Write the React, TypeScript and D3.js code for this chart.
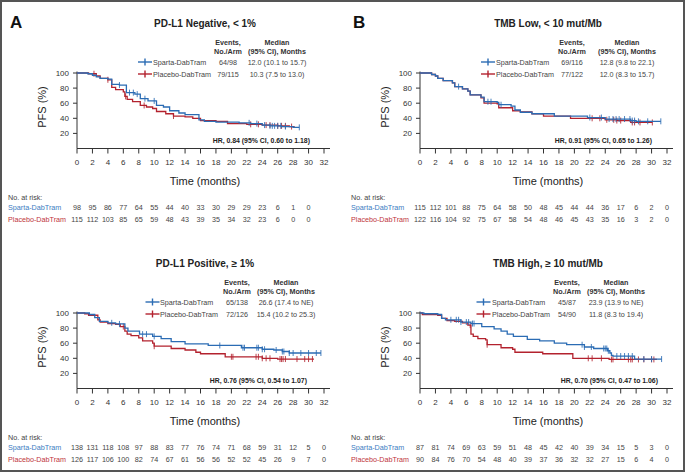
import React from 'react';
import * as d3 from 'd3';

// ---- data ----
const xTicks = [0, 2, 4, 6, 8, 10, 12, 14, 16, 18, 20, 22, 24, 26, 28, 30, 32];
const yTicks = [20, 40, 60, 80, 100];
const armNames = ['Sparta-DabTram', 'Placebo-DabTram'];

// PD-L1 negative
const negSpartaSteps = [[0, 100], [1.4, 99], [2.0, 97], [2.5, 95], [3.0, 93], [4.0, 92], [4.5, 85], [5.5, 84], [6.4, 74], [7.5, 72], [8.2, 66], [9.2, 63], [10.3, 57], [11.2, 55], [12.0, 50], [13.2, 47], [14.0, 45], [15.8, 38], [16.5, 36], [18.0, 35], [21.0, 34], [22.5, 33], [24.0, 31], [25.0, 30], [26.5, 29], [28.0, 28]];
const negSpartaEnd = 28.8;
const negSpartaCensor = [5.5, 6.8, 7.3, 7.8, 8.8, 10.0, 22.3, 23.3, 24.3, 25.0, 25.3, 25.6, 26.0, 26.4, 27.0, 28.8];
const negPlaceboSteps = [[0, 100], [1.5, 99], [2.5, 96], [3.0, 93], [4.0, 91], [4.5, 81], [5.0, 78], [6.0, 75], [6.2, 69], [6.5, 65], [7.2, 62], [8.2, 57], [9.0, 55], [9.8, 53], [10.3, 49], [11.5, 46], [12.5, 43], [14.0, 42], [15.0, 40], [16.0, 37], [18.0, 36], [19.5, 33], [22.0, 32], [24.0, 31], [26.0, 30], [27.5, 29]];
const negPlaceboEnd = 28.2;
const negPlaceboCensor = [2.2, 4.0, 6.3, 8.7, 12.5, 22.5, 23.5, 24.5, 25.0, 26.0, 26.5, 27.0, 27.8];
const negRiskSparta = [98, 95, 86, 77, 64, 55, 44, 40, 33, 30, 29, 29, 23, 6, 1, 0];
const negRiskPlacebo = [115, 112, 103, 85, 65, 59, 48, 43, 39, 35, 34, 32, 23, 6, 0, 0];

// PD-L1 positive
const posSpartaSteps = [[0, 100], [1.6, 98], [2.3, 94], [2.9, 89], [4.0, 87], [5.0, 85.5], [6.2, 80], [6.6, 76], [8.1, 72], [9.8, 69], [10.9, 66], [12.2, 62], [14.0, 59], [17.0, 57], [21.3, 54], [24.0, 52], [25.5, 51], [26.6, 49], [27.5, 47]];
const posSpartaEnd = 31.6;
const posSpartaCensor = [4.5, 5.5, 8.5, 9.0, 10.0, 18.5, 21.5, 21.7, 23.3, 23.5, 24.0, 24.3, 25.8, 26.6, 26.8, 27.5, 28.0, 29.0, 30.0, 31.0, 31.6];
const posPlaceboSteps = [[0, 100], [1.0, 99], [1.5, 97], [2.7, 91], [3.0, 88], [4.0, 86], [5.0, 85], [5.6, 82], [6.2, 76], [6.5, 72], [7.0, 70], [8.0, 67], [8.5, 63], [9.8, 60], [10.0, 56], [12.2, 53], [14.0, 51], [15.4, 48], [16.0, 46], [19.2, 42], [24.0, 40], [26.0, 39]];
const posPlaceboEnd = 30.7;
const posPlaceboCensor = [6.0, 10.0, 20.0, 20.2, 23.2, 23.5, 24.0, 24.5, 25.0, 26.3, 26.5, 26.7, 27.0, 28.5, 29.5, 30.0, 30.5];
const posRiskSparta = [138, 131, 118, 108, 97, 88, 83, 77, 76, 74, 71, 68, 59, 31, 12, 5, 0];
const posRiskPlacebo = [126, 117, 106, 100, 82, 74, 67, 61, 56, 56, 52, 52, 45, 26, 9, 7, 0];

// TMB low
const lowSpartaSteps = [[0, 100], [1.5, 98], [2.0, 96], [2.3, 93], [3.0, 90], [4.2, 87], [4.5, 82], [5.5, 79], [6.2, 76], [6.5, 71], [7.9, 68], [8.3, 62], [10.0, 61], [10.2, 58], [11.8, 56], [12.3, 51], [13.0, 48], [14.5, 46], [17.4, 43], [21.7, 41], [24.0, 39], [27.3, 37], [28.0, 36]];
const lowSpartaEnd = 31.2;
const lowSpartaCensor = [5.0, 8.8, 9.2, 10.5, 22.0, 23.5, 24.5, 25.0, 25.4, 25.8, 26.5, 27.2, 27.5, 27.8, 28.3, 29.5, 31.2];
const lowPlaceboSteps = [[0, 100], [1.5, 98], [2.0, 96], [2.3, 93], [3.0, 90], [4.2, 87], [4.5, 82], [5.5, 79], [6.2, 76], [6.5, 71], [7.9, 67], [8.3, 60], [10.0, 59], [10.2, 54], [12.0, 50], [13.0, 48.5], [14.5, 46], [16.0, 43], [19.5, 40], [24.0, 38], [25.5, 37], [27.3, 34.5]];
const lowPlaceboEnd = 30.1;
const lowPlaceboCensor = [22.3, 23.3, 24.2, 25.1, 25.5, 26.0, 27.5, 27.8, 28.5, 30.1];
const lowRiskSparta = [115, 112, 101, 88, 75, 64, 58, 50, 48, 45, 44, 44, 36, 17, 6, 2, 0];
const lowRiskPlacebo = [122, 116, 104, 92, 75, 67, 58, 54, 48, 46, 45, 43, 35, 16, 3, 2, 0];

// TMB high
const highSpartaSteps = [[0, 100], [0.5, 99], [2.3, 98], [2.8, 93], [3.3, 91], [5.3, 88], [6.6, 86], [8.0, 82], [9.6, 79], [10.5, 76], [11.3, 72], [12.1, 69], [13.9, 65], [15.5, 63], [17.4, 60], [19.0, 58], [21.3, 55], [22.5, 53], [24.3, 50], [24.6, 47], [24.8, 44], [25.0, 43], [27.8, 39]];
const highSpartaEnd = 31.3;
const highSpartaCensor = [4.0, 4.7, 5.0, 5.3, 6.0, 6.3, 6.8, 7.0, 21.0, 21.3, 22.2, 23.8, 24.0, 24.2, 24.4, 25.5, 26.0, 26.5, 27.0, 27.5, 29.0, 30.0, 31.3];
const highPlaceboSteps = [[0, 100], [0.3, 98], [2.3, 97], [2.8, 93], [3.5, 90], [4.5, 89], [5.5, 87], [6.2, 84], [6.6, 72], [6.9, 69], [7.5, 66], [8.5, 64.5], [8.7, 58], [10.5, 54], [12.0, 52], [12.3, 48], [15.9, 46], [19.8, 40], [24.5, 38.5]];
const highPlaceboEnd = 30.7;
const highPlaceboCensor = [6.5, 8.7, 21.8, 22.3, 23.5, 24.8, 25.0, 27.0, 27.3, 27.5, 28.3, 29.0, 30.0, 30.3];
const highRiskSparta = [87, 81, 74, 69, 63, 59, 51, 48, 45, 42, 40, 39, 34, 15, 5, 3, 0];
const highRiskPlacebo = [90, 84, 76, 70, 54, 48, 40, 39, 37, 36, 32, 32, 27, 15, 6, 4, 0];

const BLUE = '#2b6cb4';
const RED = '#b3222e';
const FONT = "'Liberation Sans', Arial, sans-serif";

type Arm = { steps: number[][]; end: number; censor: number[] };

const panels = [
  {
    key: 'neg', letter: 'A', title: 'PD-L1 Negative, < 1%', ox: 77, oy: 73,
    arms: [
      { steps: negSpartaSteps, end: negSpartaEnd, censor: negSpartaCensor },
      { steps: negPlaceboSteps, end: negPlaceboEnd, censor: negPlaceboCensor },
    ],
    events: ['64/98', '79/115'],
    medians: ['12.0 (10.1 to 15.7)', '10.3 (7.5 to 13.0)'],
    hr: 'HR, 0.84 (95% CI, 0.60 to 1.18)',
    risk: [negRiskSparta, negRiskPlacebo],
    leg: [68, 76, 151, 200], hrX: 233,
  },
  {
    key: 'pos', letter: '', title: 'PD-L1 Positive, \u2265 1%', ox: 77, oy: 313,
    arms: [
      { steps: posSpartaSteps, end: posSpartaEnd, censor: posSpartaCensor },
      { steps: posPlaceboSteps, end: posPlaceboEnd, censor: posPlaceboCensor },
    ],
    events: ['65/138', '72/126'],
    medians: ['26.6 (17.4 to NE)', '15.4 (10.2 to 25.3)'],
    hr: 'HR, 0.76 (95% CI, 0.54 to 1.07)',
    risk: [posRiskSparta, posRiskPlacebo],
    leg: [75.5, 83, 160, 209], hrX: 230,
  },
  {
    key: 'low', letter: 'B', title: 'TMB Low, < 10 mut/Mb', ox: 420, oy: 73,
    arms: [
      { steps: lowSpartaSteps, end: lowSpartaEnd, censor: lowSpartaCensor },
      { steps: lowPlaceboSteps, end: lowPlaceboEnd, censor: lowPlaceboCensor },
    ],
    events: ['69/116', '77/122'],
    medians: ['12.8 (9.8 to 22.1)', '12.0 (8.3 to 15.7)'],
    hr: 'HR, 0.91 (95% CI, 0.65 to 1.26)',
    risk: [lowRiskSparta, lowRiskPlacebo],
    leg: [68, 76, 152, 207], hrX: 232,
  },
  {
    key: 'high', letter: '', title: 'TMB High, \u2265 10 mut/Mb', ox: 420, oy: 313,
    arms: [
      { steps: highSpartaSteps, end: highSpartaEnd, censor: highSpartaCensor },
      { steps: highPlaceboSteps, end: highPlaceboEnd, censor: highPlaceboCensor },
    ],
    events: ['45/87', '54/90'],
    medians: ['23.9 (13.9 to NE)', '11.8 (8.3 to 19.4)'],
    hr: 'HR, 0.70 (95% CI, 0.47 to 1.06)',
    risk: [highRiskSparta, highRiskPlacebo],
    leg: [63.5, 72, 147, 196], hrX: 238,
  },
];

const survAt = (arm: Arm, t: number) => {
  let v = 100;
  for (const [ti, s] of arm.steps) if (ti <= t) v = s;
  return v;
};

const Panel = ({ p }: { p: typeof panels[number] }) => {
  const x = d3.scaleLinear().domain([0, 32]).range([p.ox, p.ox + 247]);
  const y = d3.scaleLinear().domain([0, 100]).range([p.oy + 75.5, p.oy]);
  const line = d3.line<number[]>().x(d => x(d[0])).y(d => y(d[1])).curve(d3.curveStepAfter);
  const colors = [BLUE, RED];
  const axisY = y(0);
  const cx = p.ox + 128;
  const [mX, tX, eX, medX] = p.leg;
  const base = p.ox;
  const riskTop = p.oy + 124.7;

  return (
    <g>
      {p.letter && (
        <text x={p.ox - 67} y={p.oy - 51} fontSize={17} fontWeight="bold" fill="#111" dominantBaseline="central">{p.letter}</text>
      )}
      <text x={cx} y={p.oy - 50} fontSize={10} fontWeight="bold" textAnchor="middle" fill="#222" dominantBaseline="central">{p.title}</text>

      {/* legend header */}
      <g fontSize={7.2} fontWeight="bold" fill="#333" textAnchor="middle">
        <text x={base + eX} y={p.oy - 31} dominantBaseline="central">Events,</text>
        <text x={base + eX} y={p.oy - 22} dominantBaseline="central">No./Arm</text>
        <text x={base + medX} y={p.oy - 31} dominantBaseline="central">Median</text>
        <text x={base + medX} y={p.oy - 22} dominantBaseline="central">(95% CI), Months</text>
      </g>
      {armNames.map((name, i) => {
        const ly = p.oy - 11 + i * 12;
        return (
          <g key={name} fontSize={7.2} fill="#444">
            <line x1={base + mX - 7} x2={base + mX + 7} y1={ly} y2={ly} stroke={colors[i]} strokeWidth={1.4} />
            <line x1={base + mX} x2={base + mX} y1={ly - 3.5} y2={ly + 3.5} stroke={colors[i]} strokeWidth={1.4} />
            <text x={base + tX} y={ly} dominantBaseline="central">{name}</text>
            <text x={base + eX} y={ly} textAnchor="middle" dominantBaseline="central">{p.events[i]}</text>
            <text x={base + medX} y={ly} textAnchor="middle" dominantBaseline="central">{p.medians[i]}</text>
          </g>
        );
      })}

      {/* axes */}
      <line x1={p.ox} x2={p.ox} y1={p.oy - 1.5} y2={axisY} stroke="#333" strokeWidth={1} />
      <line x1={p.ox} x2={p.ox + 253} y1={axisY} y2={axisY} stroke="#333" strokeWidth={1} />
      {yTicks.map(t => (
        <g key={t}>
          <line x1={p.ox - 4} x2={p.ox} y1={y(t)} y2={y(t)} stroke="#333" />
          <text x={p.ox - 8} y={y(t)} fontSize={8} textAnchor="end" dominantBaseline="central" fill="#333">{t}</text>
        </g>
      ))}
      {xTicks.map(t => (
        <g key={t}>
          <line x1={x(t)} x2={x(t)} y1={axisY} y2={axisY + 5} stroke="#333" />
          <text x={x(t)} y={axisY + 13.5} fontSize={8} textAnchor="middle" dominantBaseline="central" fill="#333">{t}</text>
        </g>
      ))}
      <text transform={`translate(${p.ox - 35},${p.oy + 34}) rotate(-90)`} fontSize={11} textAnchor="middle" dominantBaseline="central" fill="#222">PFS (%)</text>
      <text x={cx} y={axisY + 32.5} fontSize={11} textAnchor="middle" dominantBaseline="central" fill="#222">Time (months)</text>

      {/* curves */}
      {p.arms.map((arm, i) => {
        const pts = [...arm.steps, [arm.end, arm.steps[arm.steps.length - 1][1]]];
        return (
          <g key={i}>
            <path d={line(pts) || ''} fill="none" stroke={colors[i]} strokeWidth={1.3} />
            {arm.censor.map((c, j) => (
              <line key={j} x1={x(c)} x2={x(c)} y1={y(survAt(arm, c)) - 3} y2={y(survAt(arm, c)) + 3} stroke={colors[i]} strokeWidth={1} opacity={0.85} />
            ))}
          </g>
        );
      }).reverse()}
      <text x={p.ox + p.hrX} y={p.oy + 67} fontSize={6.9} fontWeight="bold" textAnchor="end" dominantBaseline="central" fill="#222">{p.hr}</text>

      {/* number at risk */}
      <text x={p.ox - 69} y={riskTop} fontSize={7.2} fill="#444" dominantBaseline="central">No. at risk:</text>
      {armNames.map((name, i) => (
        <g key={name}>
          <text x={p.ox - 69} y={riskTop + 9.8 + i * 12} fontSize={7.2} fill={i === 0 ? '#3b7cc2' : '#c0353c'} dominantBaseline="central">{name}</text>
          {p.risk[i].map((n, j) => (
            <text key={j} x={x(xTicks[j])} y={riskTop + 9.8 + i * 12} fontSize={7.2} fill="#444" textAnchor="middle" dominantBaseline="central">{n}</text>
          ))}
        </g>
      ))}
    </g>
  );
};

export default function App() {
  return (
    <svg width={685} height={472} style={{ position: 'absolute', left: 0, top: 0, background: '#fff' }} fontFamily={FONT}>
      <rect x={0} y={0} width={685} height={472} fill="#fff" />
      {panels.map(p => <Panel key={p.key} p={p} />)}
      <rect x={1} y={1} width={683} height={470} fill="none" stroke="#555" strokeWidth={2} />
    </svg>
  );
}
